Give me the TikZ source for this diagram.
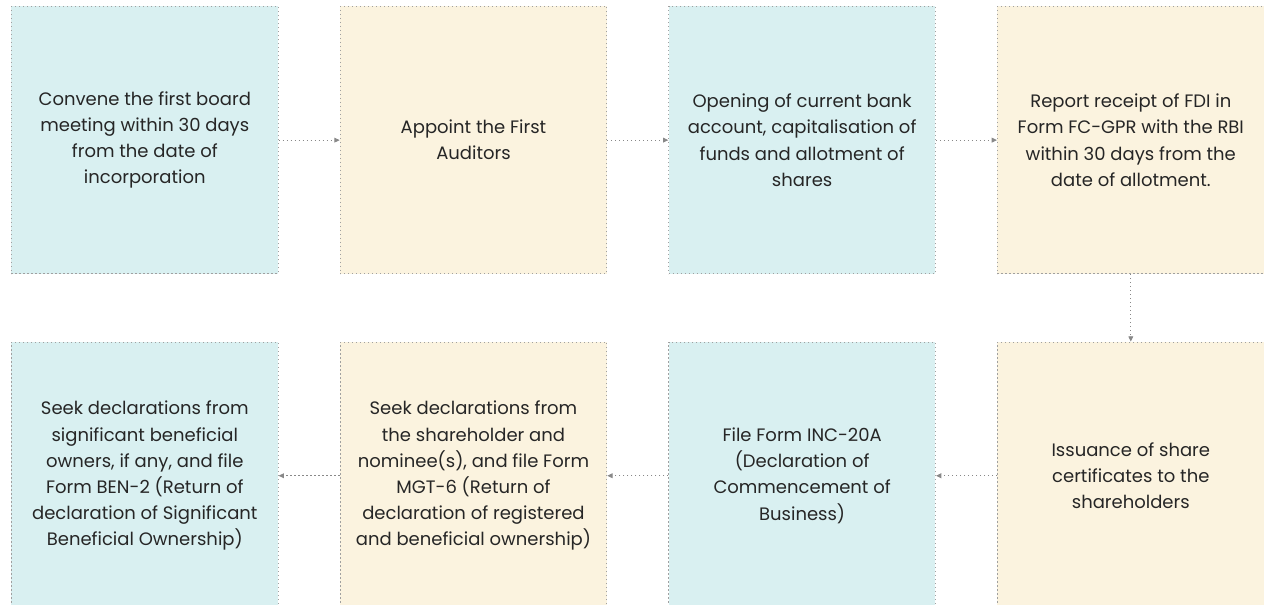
\documentclass[tikz,border=0pt]{standalone}
\usepackage{fontspec}
\setmainfont{Poppins}
\usetikzlibrary{positioning,arrows.meta}

\definecolor{stepcyan}{RGB}{217,240,241}
\definecolor{stepsand}{RGB}{251,243,223}
\definecolor{stepline}{RGB}{160,160,160}
\definecolor{steptext}{RGB}{38,38,38}

\begin{document}
\begin{tikzpicture}[x=0.75pt,y=-0.75pt,
    card/.style={draw=stepline, line width=0.7pt, dash pattern=on 0.9pt off 2.1pt,
        minimum width=200pt, minimum height=200.5pt, inner sep=0pt,
        align=center, text=steptext, font=\fontsize{13.5}{19.6}\selectfont},
    cyan card/.style={card, fill=stepcyan},
    sand card/.style={card, fill=stepsand},
    flow/.style={draw=stepline!85!black, line width=0.7pt, dash pattern=on 0.9pt off 2.1pt,
        -{Triangle[length=4pt,width=3.6pt]}}]

\useasboundingbox (0,0) rectangle (1264,604);
\clip (0,0) rectangle (1264,604);

% top row, left to right
\node[cyan card, anchor=north west] (board) at (11,6)
    {Convene the first board\\meeting within 30 days\\from the date of\\incorporation};
\node[sand card, right=45.8pt of board] (auditors)
    {Appoint the First\\Auditors};
\node[cyan card, right=45.8pt of auditors] (bank)
    {Opening of current bank\\account, capitalisation of\\funds and allotment of\\shares};
\node[sand card, right=45.8pt of bank] (fcgpr)
    {Report receipt of FDI in\\Form FC-GPR with the RBI\\within 30 days from the\\date of allotment.};

% bottom row, right to left
\node[sand card, below=50.5pt of fcgpr] (certs)
    {Issuance of share\\certificates to the\\shareholders};
\node[cyan card, left=45.8pt of certs] (inc)
    {File Form INC-20A\\(Declaration of\\Commencement of\\Business)};
\node[sand card, left=45.8pt of inc] (mgt)
    {Seek declarations from\\the shareholder and\\nominee(s), and file Form\\MGT-6 (Return of\\declaration of registered\\and beneficial ownership)};
\node[cyan card, left=45.8pt of mgt] (ben)
    {Seek declarations from\\significant beneficial\\owners, if any, and file\\Form BEN-2 (Return of\\declaration of Significant\\Beneficial Ownership)};

\foreach \a/\b in {board/auditors, auditors/bank, bank/fcgpr, certs/inc, inc/mgt, mgt/ben}
    \draw[flow] (\a) -- (\b);
\draw[flow] (fcgpr) -- (certs);

\end{tikzpicture}
\end{document}
